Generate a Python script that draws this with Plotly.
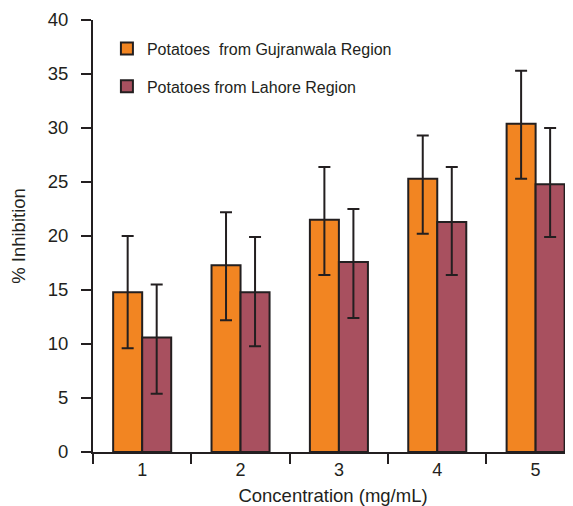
import plotly.graph_objects as go

categories = ["1", "2", "3", "4", "5"]
guj_vals = [14.8, 17.3, 21.5, 25.3, 30.4]
guj_err_plus = [5.2, 4.9, 4.9, 4.0, 4.9]
guj_err_minus = [5.2, 5.1, 5.1, 5.1, 5.1]
lah_vals = [10.6, 14.8, 17.6, 21.3, 24.8]
lah_err_plus = [4.9, 5.1, 4.9, 5.1, 5.2]
lah_err_minus = [5.2, 5.0, 5.2, 4.9, 4.9]
series_names = ["Potatoes  from Gujranwala Region", "Potatoes from Lahore Region"]

ink = "#231F20"
font_family = "Liberation Sans, Arial, sans-serif"

fig = go.Figure()
fig.add_trace(go.Bar(
    x=categories, y=guj_vals, name=series_names[0], legendgroup="a",
    marker=dict(color="#F28522", line=dict(color=ink, width=2)),
    error_y=dict(type="data", symmetric=False, array=guj_err_plus, arrayminus=guj_err_minus,
                 color=ink, thickness=2, width=6),
))
fig.add_trace(go.Bar(
    x=categories, y=lah_vals, name=series_names[1], legendgroup="b",
    marker=dict(color="#A8505F", line=dict(color=ink, width=2)),
    error_y=dict(type="data", symmetric=False, array=lah_err_plus, arrayminus=lah_err_minus,
                 color=ink, thickness=2, width=6),
))

# The page body has an 8px default margin, so the figure is sized to fit the window.
fig.update_layout(
    width=565, height=498,
    margin=dict(l=85, r=0, t=12, b=54),
    paper_bgcolor="white", plot_bgcolor="white",
    barmode="group", bargap=0.41, bargroupgap=0,
    font=dict(family=font_family, size=16, color=ink),
    showlegend=True,
    legend=dict(x=0.029, y=0.973, xanchor="left", yanchor="top",
                bgcolor="rgba(0,0,0,0)", tracegroupgap=14,
                traceorder="grouped", font=dict(size=16, color=ink)),
    xaxis=dict(
        type="category", range=[-0.5, 4.38], automargin=False,
        tickson="boundaries", ticks="outside", ticklen=10, tickwidth=2, tickcolor=ink,
        showline=True, linecolor=ink, linewidth=2, showgrid=False, zeroline=False,
        tickfont=dict(size=18, color=ink),
        title=dict(text="Concentration (mg/mL)", font=dict(size=18.5, color=ink), standoff=11),
    ),
    yaxis=dict(
        range=[0, 40], tickvals=[0, 5, 10, 15, 20, 25, 30, 35, 40], automargin=False,
        ticks="outside", ticklen=10, tickwidth=2, tickcolor=ink,
        showline=True, linecolor=ink, linewidth=2, showgrid=False, zeroline=False,
        tickfont=dict(size=18.5, color=ink), ticklabelstandoff=9,
        title=dict(text="% Inhibition", font=dict(size=18.5, color=ink), standoff=18),
    ),
)

fig.write_html("out.html")
